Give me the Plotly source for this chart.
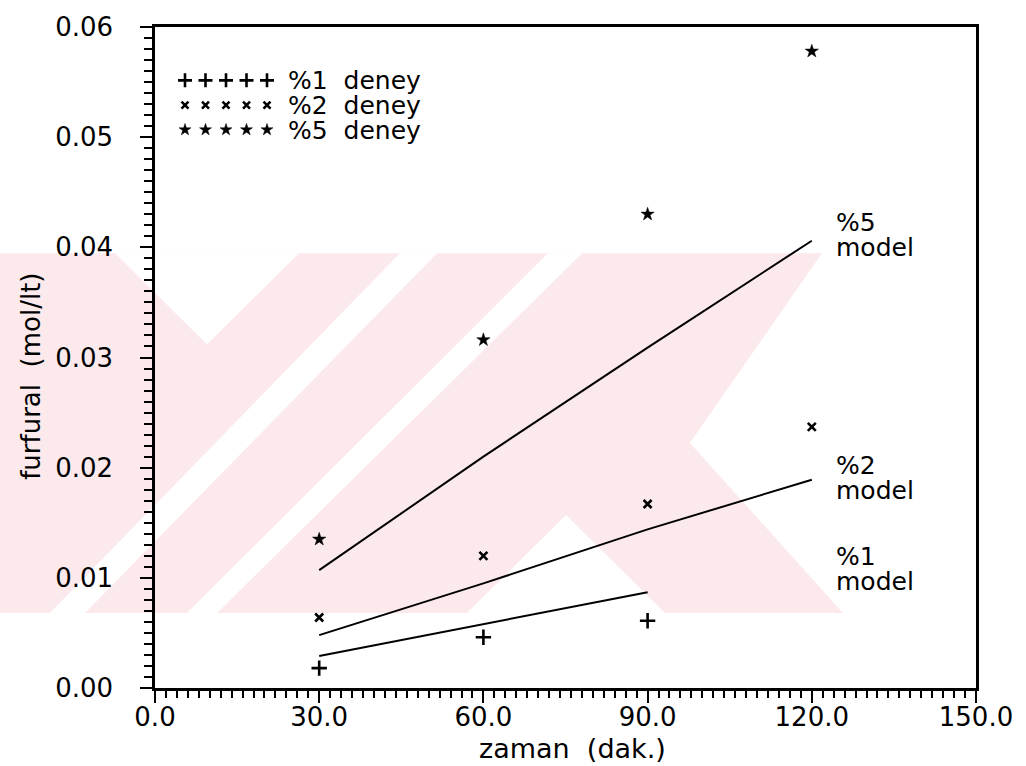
import numpy as np
import plotly.graph_objects as go

# ---------------- data ----------------
time_exp = [30, 60, 90, 120]
exp_1 = [0.0018, 0.0046, 0.0061]            # %1 deney (30, 60, 90)
exp_2 = [0.0064, 0.0120, 0.0167, 0.0237]    # %2 deney
exp_5 = [0.0135, 0.0316, 0.0430, 0.0578]    # %5 deney
model_1 = [0.0029, 0.0058, 0.0087]          # %1 model (30..90)
model_2 = [0.0048, 0.0095, 0.0144, 0.0189]  # %2 model
model_5 = [0.0107, 0.0210, 0.0309, 0.0406]  # %5 model

x_ticks = [0, 30, 60, 90, 120, 150]
y_ticks = [0.00, 0.01, 0.02, 0.03, 0.04, 0.05, 0.06]
legend_names = ["%1  deney", "%2  deney", "%5  deney"]
model_names = ["%5", "%2", "%1"]
model_label_y = [0.0411, 0.0191, 0.0108]   # centre of each two-line label

# ---------------- layout geometry ----------------
W, H = 1026, 766
L, R, T, B = 155, 50, 19, 78
PW, PH = W - L - R, H - T - B
FONT = "DejaVu Sans"
GLYPH = 25        # visible glyph size of the labels
LINE_BASE = 19.3  # base size that sets the ~25 px line pitch of the original


def px(x):
    return (x - L) / PW


def py(y):
    return (H - B - y) / PH


def path(pts):
    return "M " + " L ".join(f"{px(a):.4f},{py(b):.4f}" for a, b in pts) + " Z"


def big(s):
    return f'<span style="font-size:{GLYPH}px">{s}</span>'


fig = go.Figure()

plus = dict(symbol="cross-thin", size=11, color="black", line=dict(width=2.6, color="black"))
cross = dict(symbol="x-thin", size=8, color="black", line=dict(width=2.6, color="black"))
star = dict(symbol="star", size=10, color="black", line=dict(width=0.5, color="black"))
line_style = dict(color="black", width=2)

fig.add_trace(go.Scatter(x=time_exp[:3], y=model_1, mode="lines", line=line_style, showlegend=False))
fig.add_trace(go.Scatter(x=time_exp, y=model_2, mode="lines", line=line_style, showlegend=False))
fig.add_trace(go.Scatter(x=time_exp, y=model_5, mode="lines", line=line_style, showlegend=False))
fig.add_trace(go.Scatter(x=time_exp[:3], y=exp_1, mode="markers", marker=plus, showlegend=False))
fig.add_trace(go.Scatter(x=time_exp, y=exp_2, mode="markers", marker=cross, showlegend=False))
fig.add_trace(go.Scatter(x=time_exp, y=exp_5, mode="markers", marker=star, showlegend=False))

# ---------------- legend block (top-left, drawn as in the original) ----------------
leg_x = [px(v) for v in np.linspace(185, 267, 5)]
leg_rows = [73, 98, 123]
leg_markers = [dict(plus, size=10), dict(cross, size=7), dict(star, size=9)]
for row, mk in zip(leg_rows, leg_markers):
    fig.add_trace(go.Scatter(x=leg_x, y=[py(row)] * 5, xaxis="x2", yaxis="y2",
                             mode="markers", marker=mk, showlegend=False))
fig.add_annotation(x=px(286), y=py(np.mean(leg_rows)), xref="paper", yref="paper",
                   text="<br>".join(big(n) for n in legend_names), align="left",
                   showarrow=False, xanchor="left", yanchor="middle",
                   font=dict(family=FONT, size=LINE_BASE, color="black"))

# ---------------- model labels ----------------
for name, yv in zip(model_names, model_label_y):
    fig.add_annotation(x=124.0, y=yv, text=big(name) + "<br>" + big("model"), align="left",
                       showarrow=False, xanchor="left", yanchor="middle",
                       font=dict(family=FONT, size=LINE_BASE, color="black"))

# ---------------- axis titles ----------------
fig.add_annotation(x=px(31), y=py(372), xref="paper", yref="paper", text="furfural  (mol/lt)",
                   textangle=-90, showarrow=False, xanchor="center", yanchor="middle",
                   font=dict(family=FONT, size=26, color="black"))
fig.add_annotation(x=px(572), y=py(749), xref="paper", yref="paper", text="zaman  (dak.)",
                   showarrow=False, xanchor="center", yanchor="middle",
                   font=dict(family=FONT, size=27, color="black"))

# ---------------- faint watermark of the scanned page ----------------
pink = "#fce9ec"
wm_pink = [[(0, 248), (822, 248), (690, 440), (843, 612), (0, 612)]]
wm_white = [
    [(115, 248), (299, 248), (207, 340)],
    [(400, 248), (437, 248), (85, 612), (50, 612)],
    [(548, 248), (582, 248), (217, 612), (187, 612)],
    [(566, 513), (665, 612), (467, 612)],
]
shapes = []
for poly in wm_pink:
    shapes.append(dict(type="path", path=path(poly), xref="paper", yref="paper",
                       fillcolor=pink, line=dict(width=0), layer="below"))
for poly in wm_white:
    shapes.append(dict(type="path", path=path(poly), xref="paper", yref="paper",
                       fillcolor="white", line=dict(width=0), layer="below"))
fig.update_layout(shapes=shapes)

axis_common = dict(showgrid=False, zeroline=False, showline=True, linecolor="black",
                   linewidth=2.5, mirror=True, ticks="outside", tickcolor="black",
                   tickwidth=2, tickfont=dict(family=FONT, size=26, color="black"))

fig.update_layout(
    width=W, height=H,
    margin=dict(l=L, r=R, t=T, b=B),
    paper_bgcolor="white", plot_bgcolor="rgba(0,0,0,0)",
    showlegend=False,
    xaxis=dict(axis_common, range=[0, 150], tickvals=x_ticks, tickformat=".1f", ticklen=12,
               ticklabelstandoff=-8,
               minor=dict(dtick=2, ticklen=7, tickwidth=2, tickcolor="black", ticks="outside")),
    yaxis=dict(axis_common, range=[0, 0.06], tickvals=y_ticks, tickformat=".2f", ticklen=12,
               ticklabelstandoff=22,
               minor=dict(dtick=0.001, ticklen=8, tickwidth=2, tickcolor="black", ticks="outside")),
    xaxis2=dict(overlaying="x", range=[0, 1], visible=False),
    yaxis2=dict(overlaying="y", range=[0, 1], visible=False),
)

fig.write_html("out.html")
